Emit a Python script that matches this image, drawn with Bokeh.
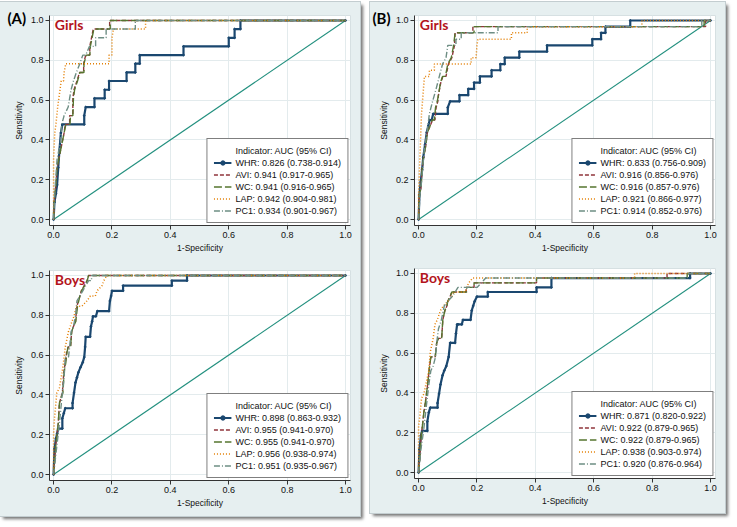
from bokeh.plotting import figure
from bokeh.models import Range1d, FixedTicker, PrintfTickFormatter, Legend, LegendItem, Label
from bokeh.layouts import column, row
from bokeh.embed import file_html
from bokeh.resources import INLINE

# ---------------- data ----------------
indicators = ["WHR", "AVI", "WC", "LAP", "PC1"]
tick_values = [0.0, 0.2, 0.4, 0.6, 0.8, 1.0]
diag_x = [0.0, 1.0]
diag_y = [0.0, 1.0]

a_girls_auc = ["0.826 (0.738-0.914)", "0.941 (0.917-0.965)", "0.941 (0.916-0.965)", "0.942 (0.904-0.981)", "0.934 (0.901-0.967)"]
a_boys_auc = ["0.898 (0.863-0.932)", "0.955 (0.941-0.970)", "0.955 (0.941-0.970)", "0.956 (0.938-0.974)", "0.951 (0.935-0.967)"]
b_girls_auc = ["0.833 (0.756-0.909)", "0.916 (0.856-0.976)", "0.916 (0.857-0.976)", "0.921 (0.866-0.977)", "0.914 (0.852-0.976)"]
b_boys_auc = ["0.871 (0.820-0.922)", "0.922 (0.879-0.965)", "0.922 (0.879-0.965)", "0.938 (0.903-0.974)", "0.920 (0.876-0.964)"]

# (A) Girls
a_girls_whr_x = [0, 0.003, 0.008, 0.012, 0.016, 0.02, 0.025, 0.03, 0.105, 0.105, 0.11, 0.14, 0.14, 0.175, 0.175, 0.19, 0.19, 0.25, 0.25, 0.28, 0.28, 0.295, 0.295, 0.445, 0.445, 0.6, 0.6, 0.62, 0.62, 0.64, 0.64, 1.0]
a_girls_whr_y = [0, 0.087, 0.13, 0.174, 0.261, 0.348, 0.435, 0.478, 0.478, 0.522, 0.565, 0.565, 0.609, 0.609, 0.652, 0.652, 0.696, 0.696, 0.739, 0.739, 0.783, 0.783, 0.826, 0.826, 0.870, 0.870, 0.913, 0.913, 0.957, 0.957, 1.0, 1.0]
a_girls_avi_x = [0, 0.004, 0.008, 0.012, 0.018, 0.024, 0.03, 0.036, 0.04, 0.055, 0.055, 0.066, 0.066, 0.07, 0.08, 0.089, 0.103, 0.103, 0.11, 0.124, 0.124, 0.136, 0.192, 0.192, 1.0]
a_girls_avi_y = [0, 0.13, 0.174, 0.261, 0.304, 0.348, 0.391, 0.435, 0.478, 0.478, 0.522, 0.522, 0.609, 0.652, 0.696, 0.739, 0.739, 0.783, 0.826, 0.826, 0.870, 0.957, 0.957, 1.0, 1.0]
a_girls_wc_x = [0, 0.004, 0.008, 0.012, 0.018, 0.024, 0.03, 0.036, 0.042, 0.056, 0.058, 0.066, 0.068, 0.072, 0.082, 0.09, 0.104, 0.104, 0.112, 0.124, 0.126, 0.138, 0.194, 0.194, 1.0]
a_girls_wc_y = [0, 0.13, 0.174, 0.261, 0.304, 0.348, 0.391, 0.435, 0.478, 0.478, 0.522, 0.522, 0.609, 0.652, 0.696, 0.739, 0.739, 0.783, 0.826, 0.826, 0.870, 0.957, 0.957, 1.0, 1.0]
a_girls_lap_x = [0, 0, 0.004, 0.008, 0.014, 0.018, 0.022, 0.026, 0.034, 0.036, 0.042, 0.19, 0.19, 0.2, 0.2, 0.205, 0.315, 0.315, 1.0]
a_girls_lap_y = [0, 0.304, 0.435, 0.478, 0.565, 0.609, 0.652, 0.696, 0.696, 0.739, 0.783, 0.783, 0.826, 0.826, 0.913, 0.957, 0.957, 1.0, 1.0]
a_girls_pc1_x = [0, 0.004, 0.008, 0.012, 0.018, 0.024, 0.028, 0.036, 0.05, 0.055, 0.06, 0.068, 0.078, 0.09, 0.1, 0.11, 0.123, 0.144, 0.144, 0.18, 0.18, 0.28, 0.28, 1.0]
a_girls_pc1_y = [0, 0.13, 0.217, 0.304, 0.348, 0.391, 0.478, 0.522, 0.565, 0.609, 0.652, 0.696, 0.739, 0.783, 0.826, 0.826, 0.87, 0.87, 0.913, 0.913, 0.957, 0.957, 1.0, 1.0]

# (A) Boys
a_boys_whr_x = [0, 0.003, 0.008, 0.012, 0.016, 0.03, 0.03, 0.035, 0.04, 0.065, 0.065, 0.07, 0.075, 0.08, 0.085, 0.092, 0.1, 0.105, 0.108, 0.11, 0.125, 0.128, 0.132, 0.135, 0.145, 0.15, 0.19, 0.193, 0.197, 0.2, 0.238, 0.238, 0.405, 0.405, 0.457, 0.457, 1.0]
a_boys_whr_y = [0, 0.128, 0.18, 0.205, 0.231, 0.231, 0.282, 0.308, 0.333, 0.333, 0.359, 0.41, 0.462, 0.487, 0.513, 0.538, 0.564, 0.59, 0.641, 0.692, 0.692, 0.744, 0.769, 0.795, 0.795, 0.821, 0.821, 0.872, 0.897, 0.923, 0.923, 0.949, 0.949, 0.974, 0.974, 1.0, 1.0]
a_boys_avi_x = [0, 0.004, 0.008, 0.012, 0.016, 0.02, 0.025, 0.03, 0.035, 0.04, 0.045, 0.05, 0.058, 0.062, 0.068, 0.075, 0.08, 0.09, 0.095, 0.105, 0.115, 0.12, 1.0]
a_boys_avi_y = [0, 0.077, 0.154, 0.205, 0.256, 0.359, 0.385, 0.41, 0.513, 0.564, 0.615, 0.641, 0.641, 0.718, 0.744, 0.769, 0.846, 0.897, 0.923, 0.949, 0.974, 1.0, 1.0]
a_boys_wc_x = [0, 0.004, 0.008, 0.012, 0.016, 0.02, 0.025, 0.032, 0.036, 0.042, 0.046, 0.05, 0.058, 0.062, 0.068, 0.076, 0.082, 0.09, 0.096, 0.106, 0.115, 0.12, 1.0]
a_boys_wc_y = [0, 0.077, 0.154, 0.205, 0.256, 0.359, 0.385, 0.41, 0.513, 0.564, 0.615, 0.641, 0.641, 0.718, 0.744, 0.769, 0.846, 0.897, 0.923, 0.949, 0.974, 1.0, 1.0]
a_boys_lap_x = [0, 0, 0.003, 0.011, 0.02, 0.029, 0.034, 0.04, 0.051, 0.063, 0.07, 0.078, 0.097, 0.114, 0.126, 0.143, 0.149, 0.166, 0.172, 0.183, 1.0]
a_boys_lap_y = [0, 0.205, 0.282, 0.41, 0.436, 0.513, 0.564, 0.641, 0.718, 0.769, 0.795, 0.846, 0.846, 0.872, 0.897, 0.897, 0.923, 0.949, 0.974, 1.0, 1.0]
a_boys_pc1_x = [0, 0.006, 0.012, 0.018, 0.025, 0.03, 0.036, 0.04, 0.051, 0.055, 0.06, 0.068, 0.075, 0.08, 0.09, 0.1, 0.11, 0.12, 0.13, 0.13, 1.0]
a_boys_pc1_y = [0, 0.077, 0.154, 0.231, 0.333, 0.41, 0.487, 0.59, 0.59, 0.641, 0.718, 0.744, 0.795, 0.872, 0.897, 0.923, 0.949, 0.974, 0.974, 1.0, 1.0]

# (B) Girls
b_girls_whr_x = [0, 0.003, 0.007, 0.012, 0.016, 0.022, 0.028, 0.033, 0.038, 0.045, 0.05, 0.1, 0.1, 0.108, 0.14, 0.14, 0.17, 0.17, 0.19, 0.19, 0.21, 0.21, 0.25, 0.25, 0.28, 0.28, 0.295, 0.295, 0.345, 0.345, 0.44, 0.44, 0.595, 0.595, 0.625, 0.625, 0.64, 0.64, 0.725, 0.725, 1.0]
b_girls_whr_y = [0, 0.125, 0.188, 0.25, 0.313, 0.375, 0.438, 0.469, 0.5, 0.5, 0.531, 0.531, 0.563, 0.594, 0.594, 0.625, 0.625, 0.656, 0.656, 0.688, 0.688, 0.719, 0.719, 0.75, 0.75, 0.781, 0.781, 0.813, 0.813, 0.844, 0.844, 0.875, 0.875, 0.906, 0.906, 0.938, 0.938, 0.969, 0.969, 1.0, 1.0]
b_girls_avi_x = [0, 0.003, 0.008, 0.012, 0.017, 0.025, 0.03, 0.039, 0.048, 0.056, 0.06, 0.066, 0.068, 0.076, 0.083, 0.094, 0.102, 0.114, 0.123, 0.125, 0.186, 0.186, 0.983, 0.983, 1.0]
b_girls_avi_y = [0, 0.125, 0.156, 0.25, 0.313, 0.375, 0.438, 0.469, 0.5, 0.5, 0.563, 0.594, 0.625, 0.688, 0.719, 0.719, 0.781, 0.813, 0.875, 0.938, 0.938, 0.969, 0.969, 1.0, 1.0]
b_girls_wc_x = [0, 0.003, 0.008, 0.012, 0.017, 0.025, 0.03, 0.039, 0.046, 0.054, 0.058, 0.064, 0.068, 0.075, 0.082, 0.092, 0.1, 0.112, 0.12, 0.125, 0.19, 0.19, 0.978, 0.978, 1.0]
b_girls_wc_y = [0, 0.125, 0.156, 0.25, 0.313, 0.375, 0.438, 0.469, 0.5, 0.5, 0.563, 0.594, 0.625, 0.688, 0.719, 0.719, 0.781, 0.813, 0.875, 0.938, 0.938, 0.969, 0.969, 1.0, 1.0]
b_girls_lap_x = [0, 0.0, 0.003, 0.01, 0.015, 0.02, 0.037, 0.037, 0.054, 0.054, 0.18, 0.18, 0.197, 0.2, 0.203, 0.318, 0.318, 0.372, 0.372, 0.765, 0.765, 1.0]
b_girls_lap_y = [0, 0.125, 0.25, 0.531, 0.625, 0.719, 0.719, 0.75, 0.75, 0.781, 0.781, 0.813, 0.813, 0.875, 0.906, 0.906, 0.938, 0.938, 0.969, 0.969, 1.0, 1.0]
b_girls_pc1_x = [0, 0.005, 0.01, 0.019, 0.029, 0.037, 0.048, 0.06, 0.071, 0.082, 0.094, 0.1, 0.128, 0.128, 0.146, 0.146, 0.272, 0.272, 0.97, 0.97, 1.0]
b_girls_pc1_y = [0, 0.125, 0.188, 0.344, 0.438, 0.531, 0.594, 0.656, 0.719, 0.781, 0.813, 0.875, 0.875, 0.906, 0.906, 0.938, 0.938, 0.969, 0.969, 1.0, 1.0]

# (B) Boys
b_boys_whr_x = [0, 0.003, 0.008, 0.012, 0.016, 0.03, 0.03, 0.035, 0.04, 0.065, 0.065, 0.07, 0.075, 0.082, 0.088, 0.095, 0.103, 0.108, 0.11, 0.125, 0.128, 0.132, 0.135, 0.148, 0.152, 0.178, 0.182, 0.187, 0.192, 0.2, 0.237, 0.237, 0.404, 0.404, 0.455, 0.455, 0.93, 0.93, 1.0]
b_boys_whr_y = [0, 0.116, 0.186, 0.209, 0.209, 0.209, 0.256, 0.302, 0.326, 0.326, 0.349, 0.395, 0.442, 0.488, 0.512, 0.535, 0.581, 0.651, 0.651, 0.651, 0.698, 0.744, 0.744, 0.744, 0.767, 0.767, 0.814, 0.837, 0.86, 0.884, 0.884, 0.907, 0.907, 0.93, 0.93, 0.977, 0.977, 1.0, 1.0]
b_boys_avi_x = [0, 0.004, 0.009, 0.013, 0.018, 0.023, 0.031, 0.036, 0.042, 0.057, 0.062, 0.068, 0.079, 0.083, 0.09, 0.097, 0.1, 0.108, 0.114, 0.163, 0.163, 0.19, 0.19, 0.404, 0.404, 0.851, 0.851, 1.0]
b_boys_avi_y = [0, 0.07, 0.186, 0.233, 0.302, 0.349, 0.442, 0.512, 0.581, 0.581, 0.651, 0.674, 0.674, 0.767, 0.814, 0.837, 0.86, 0.884, 0.907, 0.907, 0.93, 0.93, 0.953, 0.953, 0.977, 0.977, 1.0, 1.0]
b_boys_wc_x = [0, 0.004, 0.009, 0.013, 0.018, 0.023, 0.031, 0.036, 0.042, 0.057, 0.062, 0.068, 0.079, 0.083, 0.09, 0.097, 0.1, 0.108, 0.114, 0.165, 0.165, 0.19, 0.19, 0.404, 0.404, 0.92, 0.92, 1.0]
b_boys_wc_y = [0, 0.07, 0.186, 0.233, 0.302, 0.349, 0.442, 0.512, 0.581, 0.581, 0.651, 0.674, 0.674, 0.767, 0.814, 0.837, 0.86, 0.884, 0.907, 0.907, 0.93, 0.93, 0.953, 0.953, 0.977, 0.977, 1.0, 1.0]
b_boys_lap_x = [0, 0, 0.004, 0.01, 0.018, 0.025, 0.035, 0.04, 0.05, 0.056, 0.064, 0.075, 0.085, 0.1, 0.115, 0.12, 0.16, 0.165, 0.172, 0.185, 0.74, 0.74, 1.0]
b_boys_lap_y = [0, 0.233, 0.279, 0.372, 0.395, 0.442, 0.512, 0.605, 0.674, 0.744, 0.767, 0.814, 0.837, 0.86, 0.884, 0.907, 0.907, 0.93, 0.953, 0.977, 0.977, 1.0, 1.0]
b_boys_pc1_x = [0, 0.008, 0.017, 0.026, 0.035, 0.042, 0.05, 0.058, 0.062, 0.068, 0.078, 0.088, 0.1, 0.115, 0.125, 0.135, 0.2, 0.215, 0.23, 0.92, 0.925, 1.0]
b_boys_pc1_y = [0, 0.116, 0.209, 0.326, 0.442, 0.512, 0.535, 0.581, 0.651, 0.721, 0.767, 0.837, 0.86, 0.884, 0.907, 0.93, 0.93, 0.953, 0.977, 0.977, 1.0, 1.0]

# ---------------- styles ----------------
BG = "#e6eff0"
COLORS = ["#1a476f", "#90353b", "#55752f", "#e37e00", "#6e8e84"]
DASHES = ["solid", "4 2", "8 3", "1 2", "6 2 1 2"]
WIDTHS = [2.2, 1.4, 1.4, 1.5, 1.4]
FONT = "Liberation Sans"


def make_panel(curves, aucs, sex, tag, w, h, bl, br, bt, bb):
    p = figure(width=w, height=h, x_range=Range1d(-0.014, 1.017), y_range=Range1d(-0.03, 1.025),
               output_backend="svg", toolbar_location=None,
               min_border_left=bl, min_border_right=br, min_border_top=bt, min_border_bottom=bb,
               background_fill_color="white", border_fill_color=BG,
               outline_line_color="#d6e0e2", outline_line_width=1)
    p.line(diag_x, diag_y, line_color="#23907f", line_width=1.1)
    title_r = p.line(x=[], y=[], line_alpha=0)
    items = [LegendItem(label="Indicator: AUC (95% CI)", renderers=[title_r])]
    for i, (xs, ys) in enumerate(curves):
        r = p.line(xs, ys, line_color=COLORS[i], line_width=WIDTHS[i], line_dash=DASHES[i])
        rs = [r]
        if i == 0:
            m = p.scatter(xs, ys, marker="circle", size=1.8, fill_color=COLORS[0], line_color=COLORS[0])
            rs.append(m)
        items.append(LegendItem(label=f"{indicators[i]}: {aucs[i]}", renderers=rs))

    for ax in (p.xaxis[0], p.yaxis[0]):
        ax.ticker = FixedTicker(ticks=tick_values)
        ax.formatter = PrintfTickFormatter(format="%.1f")
        ax.major_tick_out = 4
        ax.major_tick_in = 0
        ax.minor_tick_line_color = None
        ax.major_tick_line_color = "#333333"
        ax.axis_line_color = "#333333"
        ax.major_label_text_font = FONT
        ax.major_label_text_font_size = "9px"
        ax.major_label_text_color = "#111111"
        ax.axis_label_text_font = FONT
        ax.axis_label_text_font_size = "8.5px"
        ax.axis_label_text_font_style = "normal"
        ax.axis_label_text_color = "#111111"
    p.xaxis.axis_label = "1-Specificity"
    p.yaxis.axis_label = "Sensitivity"
    p.xaxis.major_label_standoff = 2
    p.xaxis.axis_label_standoff = 2
    p.yaxis.major_label_standoff = 2
    p.yaxis.axis_label_standoff = 4
    p.grid.grid_line_color = "#e3ebed"
    p.grid.grid_line_width = 1

    legend = Legend(items=items, location="bottom_right",
                    border_line_color="black", border_line_width=1,
                    background_fill_color="white", background_fill_alpha=1,
                    label_text_font=FONT, label_text_font_size="9px", label_text_color="#111111",
                    glyph_width=18, glyph_height=11, label_height=11, label_standoff=4,
                    spacing=1, padding=6, margin=2)
    p.add_layout(legend)

    p.add_layout(Label(x=0.004, y=1.025, text=sex, text_font="Lato", text_font_style="bold",
                       text_font_size="14px", text_color="#b3141c", text_baseline="top"))

    if tag:
        # panel tag drawn as the figure title, pulled into the grey margin left of the y axis
        p.title.text = tag
        p.title.align = "left"
        p.title.vertical_align = "bottom"
        p.title.offset = -42
        p.title.standoff = -22
        p.title.text_font = "Lato"
        p.title.text_font_style = "bold"
        p.title.text_font_size = "15px"
        p.title.text_color = "black"
    return p


a_girls = [(a_girls_whr_x, a_girls_whr_y), (a_girls_avi_x, a_girls_avi_y), (a_girls_wc_x, a_girls_wc_y),
           (a_girls_lap_x, a_girls_lap_y), (a_girls_pc1_x, a_girls_pc1_y)]
a_boys = [(a_boys_whr_x, a_boys_whr_y), (a_boys_avi_x, a_boys_avi_y), (a_boys_wc_x, a_boys_wc_y),
          (a_boys_lap_x, a_boys_lap_y), (a_boys_pc1_x, a_boys_pc1_y)]
b_girls = [(b_girls_whr_x, b_girls_whr_y), (b_girls_avi_x, b_girls_avi_y), (b_girls_wc_x, b_girls_wc_y),
           (b_girls_lap_x, b_girls_lap_y), (b_girls_pc1_x, b_girls_pc1_y)]
b_boys = [(b_boys_whr_x, b_boys_whr_y), (b_boys_avi_x, b_boys_avi_y), (b_boys_wc_x, b_boys_wc_y),
          (b_boys_lap_x, b_boys_lap_y), (b_boys_pc1_x, b_boys_pc1_y)]

p1 = make_panel(a_girls, a_girls_auc, "Girls", "(A)", 360, 256, 49, 10, 13, 33)
p2 = make_panel(a_boys, a_boys_auc, "Boys", None, 360, 258, 49, 10, 12, 36)
p3 = make_panel(b_girls, b_girls_auc, "Girls", "(B)", 355, 256, 44, 10, 13, 33)
p4 = make_panel(b_boys, b_boys_auc, "Boys", None, 355, 255, 44, 10, 10, 35)

box_style = {"background-color": BG, "box-shadow": "3px 3px 3px rgba(0,0,0,0.55)",
             "outline": "1px solid #c3cdd0"}
col_a = column(p1, p2, spacing=0, styles=box_style)
col_b = column(p3, p4, spacing=0, styles=box_style)
layout = row(col_a, col_b, spacing=10, styles={"margin-top": "2px"})

open("out.html", "w").write(file_html(layout, INLINE))
